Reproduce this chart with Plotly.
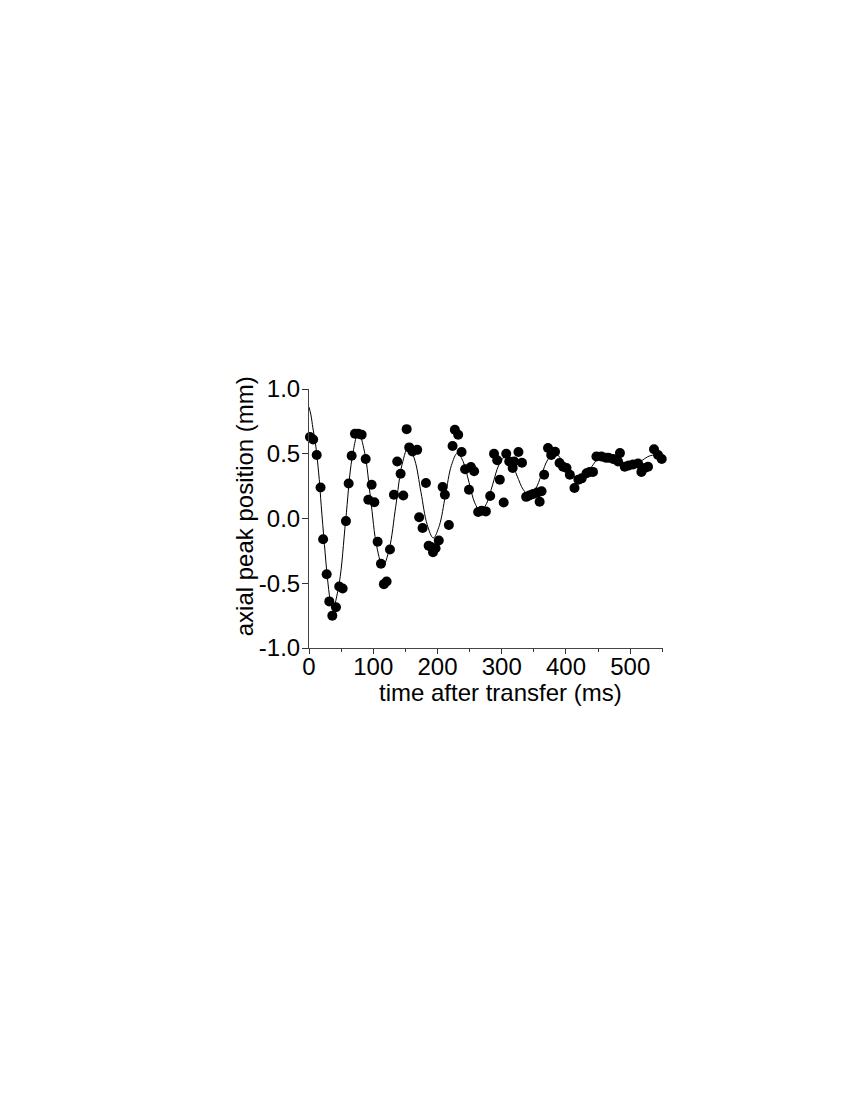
import plotly.graph_objects as go

# measured data points: time after transfer (ms), axial peak position (mm)
time_ms = [1.5, 6.5, 12, 18, 22, 27.5, 31.6, 36.3, 42, 47, 52.4, 57.5, 61.7, 66.4,
           71.5, 76.7, 82, 88.2, 92.3, 97.5, 101.7, 106.8, 112, 116.6, 120.8, 126,
           132.2, 137.3, 142.6, 146.8, 152, 156, 161, 168.4, 171.5, 176.8, 182,
           186.2, 190, 193, 197, 202, 208, 211.5, 217.7, 223.5, 227, 232.2, 237.5,
           243, 249, 252, 257, 263.3, 268.6, 275.3, 282, 288, 293, 297, 303, 307,
           311.7, 317, 319.4, 326, 331.5, 338, 343, 349, 355, 359, 362, 366, 372,
           377, 383, 390, 395.5, 400.8, 406, 413.2, 419.3, 424.5, 432, 437, 442,
           447.4, 455.2, 462, 466, 473.3, 481, 484, 491.4, 497.7, 504.5, 512.2,
           517.4, 522.6, 527.7, 537, 543.3, 549]
position_mm = [0.63, 0.61, 0.49, 0.24, -0.16, -0.43, -0.64, -0.75, -0.685, -0.525,
               -0.54, -0.02, 0.27, 0.485, 0.655, 0.655, 0.647, 0.46, 0.145, 0.26,
               0.125, -0.18, -0.35, -0.507, -0.487, -0.24, 0.183, 0.44, 0.345, 0.178,
               0.69, 0.549, 0.518, 0.53, 0.01, -0.074, 0.274, -0.21, -0.22, -0.26,
               -0.23, -0.17, 0.243, 0.183, -0.05, 0.56, 0.685, 0.647, 0.513, 0.38,
               0.222, 0.397, 0.365, 0.05, 0.06, 0.055, 0.174, 0.50, 0.45, 0.30, 0.124,
               0.50, 0.44, 0.39, 0.44, 0.513, 0.43, 0.167, 0.178, 0.19, 0.20, 0.13,
               0.21, 0.338, 0.544, 0.49, 0.515, 0.428, 0.40, 0.39, 0.338, 0.235, 0.30,
               0.31, 0.35, 0.36, 0.36, 0.479, 0.479, 0.47, 0.47, 0.46, 0.44, 0.505,
               0.40, 0.41, 0.417, 0.425, 0.36, 0.39, 0.40, 0.535, 0.49, 0.46]

# fitted curve
fit_t = [0, 3, 6, 9.5, 12, 16, 19, 24, 28.5, 33, 37,
         47, 57, 67, 77, 86.5, 96, 105.5, 115, 125, 135, 145, 155,
         164.6, 174.3, 183.9, 193.5, 202.9, 212.3, 221.6, 231, 240, 249, 258, 267,
         276.5, 286, 295.5, 305, 314.5, 324, 333.5, 343, 352.5, 362, 371.5, 381,
         390.75, 400.5, 410.25, 420, 430, 440, 450, 460, 469.5, 479, 488.5, 498,
         507.75, 517.5, 527.25, 537, 551]
fit_y = [0.86, 0.80, 0.70, 0.60, 0.50, 0.30, 0.10, -0.20, -0.45, -0.63, -0.70,
         -0.50, -0.018, 0.465, 0.665, 0.513, 0.148, -0.218, -0.37, -0.234, 0.093, 0.42, 0.555,
         0.452, 0.2025, -0.047, -0.15, -0.054, 0.178, 0.409, 0.505, 0.439, 0.28, 0.121, 0.055,
         0.117, 0.265, 0.413, 0.475, 0.432, 0.3275, 0.223, 0.18, 0.227, 0.34, 0.453, 0.50,
         0.472, 0.405, 0.338, 0.31, 0.336, 0.40, 0.464, 0.49, 0.477, 0.445, 0.413, 0.40,
         0.413, 0.445, 0.477, 0.49, 0.475]

x_ticks = [0, 100, 200, 300, 400, 500]
y_ticks = [-1.0, -0.5, 0.0, 0.5, 1.0]
y_tick_text = ["-1.0", "-0.5", "0.0", "0.5", "1.0"]

FONT = "Liberation Sans, Arial, sans-serif"

fig = go.Figure()
fig.add_trace(go.Scatter(x=fit_t, y=fit_y, mode="lines",
                         line=dict(color="black", width=1, shape="spline", smoothing=1.0),
                         hoverinfo="skip", showlegend=False))
fig.add_trace(go.Scatter(x=time_ms, y=position_mm, mode="markers",
                         marker=dict(color="black", size=10, line=dict(width=0)),
                         cliponaxis=False, showlegend=False))

fig.update_layout(
    width=850, height=1100, autosize=False,
    paper_bgcolor="white", plot_bgcolor="white",
    margin=dict(l=301, r=195, t=381, b=460),
    font=dict(family=FONT, size=24, color="black"),
    xaxis=dict(range=[0, 551], tickvals=x_ticks, ticks="outside", ticklen=5,
               tickcolor="#333", showline=True, linecolor="#444", linewidth=1,
               showgrid=False, zeroline=False, ticklabelstandoff=-8,
               minor=dict(dtick=50, tick0=0, ticks="outside", ticklen=3, tickcolor="#333"),
               tickfont=dict(family=FONT, size=24)),
    yaxis=dict(range=[-1, 1], tickvals=y_ticks, ticktext=y_tick_text, ticks="outside",
               ticklen=6, tickcolor="#333", showline=True, linecolor="#444", linewidth=1,
               showgrid=False, zeroline=False, ticklabelstandoff=-3,
               tickfont=dict(family=FONT, size=24)),
    annotations=[
        dict(text="time after transfer (ms)", xref="paper", yref="paper",
             x=0.54, y=-0.173, xanchor="center", yanchor="middle", showarrow=False,
             font=dict(family=FONT, size=24)),
        dict(text="axial peak position (mm)", xref="paper", yref="paper",
             x=-0.183, y=0.548, xanchor="center", yanchor="middle", textangle=-90,
             showarrow=False, font=dict(family=FONT, size=24)),
    ],
)

fig.write_html("out.html")
